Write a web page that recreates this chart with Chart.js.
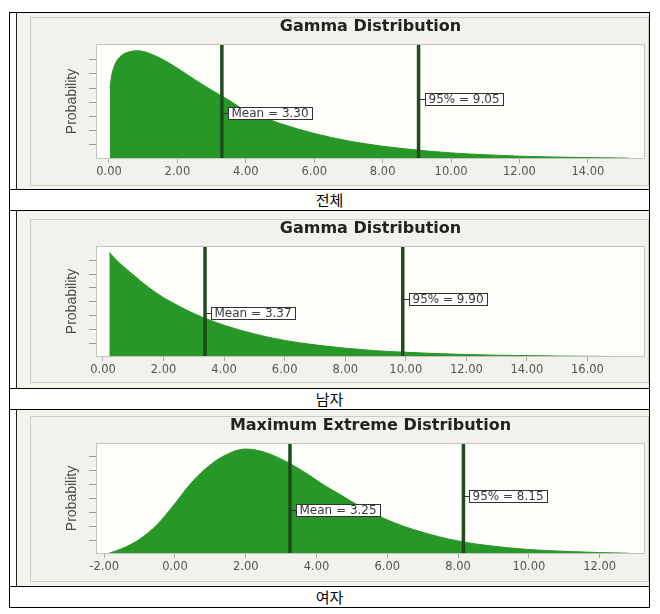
<!DOCTYPE html>
<html>
<head>
<meta charset="utf-8">
<title>Distribution charts</title>
<script src="https://cdn.jsdelivr.net/npm/chart.js@4.4.1/dist/chart.umd.min.js"></script>
<style>
  html, body { margin: 0; padding: 0; background: #fff; }
  body { width: 660px; height: 614px; position: relative; overflow: hidden; }
  .frame { position: absolute; left: 9px; top: 12px; width: 641px; height: 596px; border: 1px solid #000; box-sizing: border-box; }
  .hline { position: absolute; left: 9px; width: 641px; height: 1px; background: #000; }
  .shot { position: absolute; left: 16px; width: 633px; background: #f4f3ee; border-left: 1px solid #222; box-sizing: border-box; }
  canvas { position: absolute; left: 30px; background: #f2f1eb; }
  .cap { position: absolute; left: 9px; width: 641px; height: 20px; line-height: 20px; text-align: center;
         font-family: "Noto Sans CJK KR", sans-serif; font-size: 15px; color: #000; }
</style>
</head>
<body>
<div class="frame"></div>

<div class="shot" style="top:13px;height:176px"></div>
<canvas id="chartTotal" width="619" height="169" style="top:17px"></canvas>
<div class="hline" style="top:189px"></div>
<div class="cap" style="top:190px">전체</div>
<div class="hline" style="top:210px"></div>

<div class="shot" style="top:211px;height:177px"></div>
<canvas id="chartMale" width="619" height="164" style="top:219px"></canvas>
<div class="hline" style="top:388px"></div>
<div class="cap" style="top:389px">남자</div>
<div class="hline" style="top:409px"></div>

<div class="shot" style="top:410px;height:176px"></div>
<canvas id="chartFemale" width="619" height="166" style="top:416px"></canvas>
<div class="hline" style="top:586px"></div>
<div class="cap" style="top:587px">여자</div>

<script>
// values (y in tick-mark units of the probability axis)
const totalX = [0.03, 0.08, 0.15, 0.25, 0.4, 0.6, 0.8, 1.0, 1.5, 2.0, 2.5, 3.0, 3.5, 4.0, 4.5, 5.0, 6.0, 7.0, 8.0, 9.0, 10.0, 11.0, 12.0, 13.0, 14.0, 15.2];
const totalY = [5.0, 5.9, 6.5, 7.0, 7.35, 7.55, 7.62, 7.58, 7.1, 6.4, 5.6, 4.85, 4.15, 3.4, 2.95, 2.5, 1.8, 1.27, 0.9, 0.63, 0.43, 0.3, 0.2, 0.14, 0.1, 0.06];
const totalMean = 3.30;
const total95 = 9.05;

const maleX = [0.21, 0.5, 1.0, 1.5, 2.0, 2.5, 3.0, 3.5, 4.0, 5.0, 6.0, 7.0, 8.0, 9.0, 10.0, 11.0, 12.0, 13.0, 14.0, 15.0, 16.0, 17.4];
const maleY = [7.57, 6.9, 5.95, 5.05, 4.3, 3.7, 3.15, 2.7, 2.3, 1.67, 1.2, 0.88, 0.64, 0.46, 0.34, 0.25, 0.18, 0.13, 0.1, 0.07, 0.05, 0.03];
const maleMean = 3.37;
const male95 = 9.90;

const femaleX = [-1.87, -1.5, -1.0, -0.5, 0.0, 0.4, 0.87, 1.34, 2.0, 2.56, 3.22, 3.69, 4.16, 4.63, 5.3, 5.94, 6.5, 7.45, 8.1, 8.85, 9.95, 11.2, 12.0, 12.85];
const femaleY = [0.05, 0.38, 1.05, 2.1, 3.6, 4.9, 6.1, 6.95, 7.5, 7.25, 6.5, 5.8, 5.0, 4.3, 3.3, 2.5, 1.95, 1.24, 0.88, 0.6, 0.33, 0.17, 0.1, 0.05];
const femaleMean = 3.25;
const female95 = 8.15;

const titles = ["Gamma Distribution", "Gamma Distribution", "Maximum Extreme Distribution"];
const xTickStep = 2;

const FILL_GREEN = "#279827";
const LINE_GREEN = "#1f4b1f";

// plot background, frames and the value labels on the marker lines
const panelDeco = {
  id: "panelDeco",
  beforeDraw(chart) {
    const { ctx, chartArea: a, width, height } = chart;
    ctx.save();
    ctx.strokeStyle = "#cdccc5";
    ctx.lineWidth = 1;
    ctx.strokeRect(0.5, 0.5, width - 1, height - 1);
    ctx.fillStyle = "#fdfdf9";
    ctx.fillRect(a.left, a.top, a.right - a.left, a.bottom - a.top);
    ctx.restore();
  },
  afterDatasetsDraw(chart, args, opts) {
    const { ctx, chartArea: a } = chart;
    const xs = chart.scales.x;
    ctx.save();
    ctx.strokeStyle = "#c4c4be";
    ctx.lineWidth = 1;
    ctx.strokeRect(a.left + 0.5, a.top + 0.5, a.right - a.left - 1, a.bottom - a.top - 1);

    ctx.font = "12px 'DejaVu Sans'";
    ctx.textBaseline = "middle";
    (opts.markers || []).forEach(m => {
      const x = Math.round(xs.getPixelForValue(m.value));
      const y = Math.round(a.top + m.frac * (a.bottom - a.top)) + 0.5;
      const text = m.label + " = " + m.value.toFixed(2);
      const w = Math.ceil(ctx.measureText(text).width) + 6;
      ctx.strokeStyle = "#333";
      ctx.beginPath();
      ctx.moveTo(x, y);
      ctx.lineTo(x + 6, y);
      ctx.stroke();
      ctx.fillStyle = "#fff";
      ctx.fillRect(x + 6.5, y - 6, w, 12);
      ctx.strokeRect(x + 6.5, y - 6, w, 12);
      ctx.fillStyle = "#3a3a3a";
      ctx.fillText(text, x + 9.5, y + 0.5);
    });
    ctx.restore();
  }
};

function makeChart(canvasId, title, xs, ys, mean, p95, xMin, xMax, yMax, axisH) {
  const markerLine = v => ({
    data: [{ x: v, y: 0 }, { x: v, y: yMax }],
    borderColor: LINE_GREEN,
    borderWidth: 3.5,
    pointRadius: 0,
    fill: false,
    order: 1
  });

  return new Chart(document.getElementById(canvasId), {
    type: "line",
    data: {
      datasets: [
        markerLine(mean),
        markerLine(p95),
        {
          data: xs.map((v, i) => ({ x: v, y: ys[i] })),
          borderColor: FILL_GREEN,
          backgroundColor: FILL_GREEN,
          borderWidth: 1,
          pointRadius: 0,
          fill: "start",
          cubicInterpolationMode: "monotone",
          order: 2
        }
      ]
    },
    options: {
      responsive: false,
      animation: false,
      devicePixelRatio: 1,
      layout: { padding: { left: 0, right: 4, top: 0, bottom: 0 } },
      plugins: {
        legend: { display: false },
        tooltip: { enabled: false },
        title: {
          display: true,
          text: title,
          fullSize: false,
          color: "#222",
          font: { family: "DejaVu Sans", size: 16, weight: "bold" },
          padding: { top: 0, bottom: 7.8 }
        },
        panelDeco: {
          markers: [
            { value: mean, label: "Mean", frac: 0.6 },
            { value: p95, label: "95%", frac: 0.48 }
          ]
        }
      },
      scales: {
        x: {
          type: "linear",
          min: xMin,
          max: xMax,
          border: { display: false },
          grid: { drawOnChartArea: false, tickLength: 4, color: "#aaa" },
          ticks: {
            stepSize: xTickStep,
            includeBounds: false,
            autoSkip: false,
            maxRotation: 0,
            padding: 2,
            color: "#555",
            font: { family: "DejaVu Sans", size: 11.5 },
            callback: v => v.toFixed(2)
          },
          afterFit: s => { s.height = axisH; }
        },
        y: {
          min: 0,
          max: yMax,
          border: { display: false },
          grid: { drawOnChartArea: false, tickLength: 7, color: "#999" },
          ticks: { display: false, stepSize: 1 },
          afterBuildTicks: s => { s.ticks = s.ticks.filter(t => t.value > 0 && t.value <= 7); },
          title: {
            display: true,
            text: "Probability",
            color: "#4a4a4a",
            font: { family: "Liberation Sans", size: 14 },
            padding: { top: 34, bottom: 0 }
          },
          afterFit: s => { s.width = 66; }
        }
      }
    },
    plugins: [panelDeco]
  });
}

makeChart("chartTotal", titles[0], totalX, totalY, totalMean, total95, -0.38, 15.67, 8.1, 27);
makeChart("chartMale", titles[1], maleX, maleY, maleMean, male95, -0.23, 17.9, 8.04, 26);
makeChart("chartFemale", titles[2], femaleX, femaleY, femaleMean, female95, -2.23, 13.28, 7.93, 28);
</script>
</body>
</html>
